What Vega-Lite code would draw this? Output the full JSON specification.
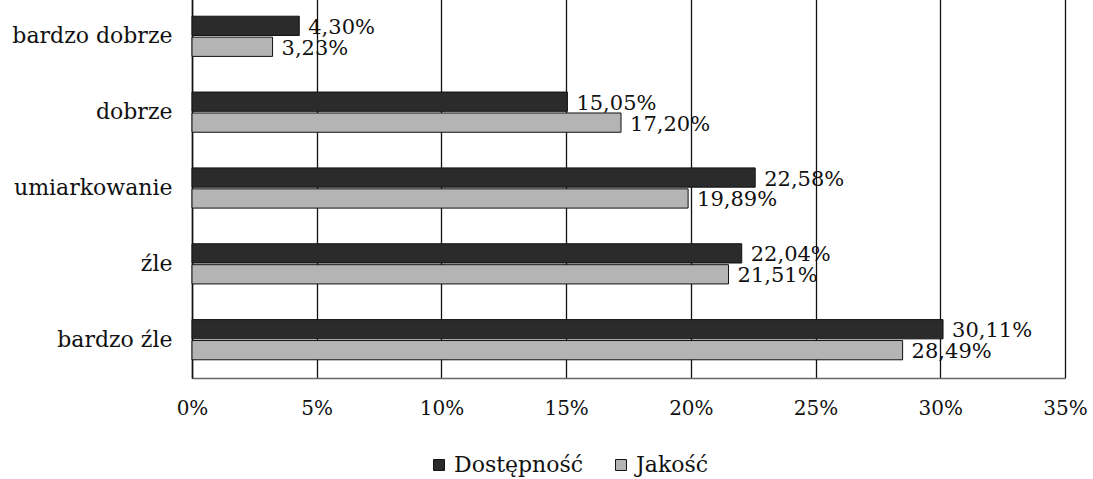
{
  "$schema": "https://vega.github.io/schema/vega-lite/v6.json",
  "width": 873,
  "height": 380,
  "autosize": {"type": "none"},
  "padding": {"left": 192, "top": -2, "right": 28, "bottom": 101},
  "background": "white",
  "config": {
    "font": "DejaVu Serif",
    "view": {"stroke": null}
  },
  "data": {
    "values": [
      {"kategoria": "bardzo dobrze", "seria": "Dostępność", "wartosc": 4.30, "etykieta": "4,30%"},
      {"kategoria": "bardzo dobrze", "seria": "Jakość", "wartosc": 3.23, "etykieta": "3,23%"},
      {"kategoria": "dobrze", "seria": "Dostępność", "wartosc": 15.05, "etykieta": "15,05%"},
      {"kategoria": "dobrze", "seria": "Jakość", "wartosc": 17.20, "etykieta": "17,20%"},
      {"kategoria": "umiarkowanie", "seria": "Dostępność", "wartosc": 22.58, "etykieta": "22,58%"},
      {"kategoria": "umiarkowanie", "seria": "Jakość", "wartosc": 19.89, "etykieta": "19,89%"},
      {"kategoria": "źle", "seria": "Dostępność", "wartosc": 22.04, "etykieta": "22,04%"},
      {"kategoria": "źle", "seria": "Jakość", "wartosc": 21.51, "etykieta": "21,51%"},
      {"kategoria": "bardzo źle", "seria": "Dostępność", "wartosc": 30.11, "etykieta": "30,11%"},
      {"kategoria": "bardzo źle", "seria": "Jakość", "wartosc": 28.49, "etykieta": "28,49%"}
    ]
  },
  "encoding": {
    "y": {
      "field": "kategoria",
      "type": "nominal",
      "sort": ["bardzo dobrze", "dobrze", "umiarkowanie", "źle", "bardzo źle"],
      "scale": {"paddingInner": 0.47, "paddingOuter": 0.24},
      "axis": {
        "title": null,
        "ticks": false,
        "labelFontSize": 22,
        "labelColor": "#111",
        "labelPadding": 20,
        "domainColor": "#111",
        "domainWidth": 1.5
      }
    },
    "yOffset": {
      "field": "seria",
      "type": "nominal",
      "sort": ["Dostępność", "Jakość"],
      "scale": {"paddingInner": 0.08}
    },
    "x": {
      "field": "wartosc",
      "type": "quantitative",
      "scale": {"domain": [0, 35], "nice": false},
      "axis": {
        "title": null,
        "values": [0, 5, 10, 15, 20, 25, 30, 35],
        "labelExpr": "datum.value + '%'",
        "labelFontSize": 20,
        "labelFlush": false,
        "labelColor": "#111",
        "labelPadding": 20,
        "ticks": false,
        "grid": true,
        "gridColor": "#111",
        "gridWidth": 1.3,
        "domainColor": "#666",
        "domainWidth": 1.5
      }
    }
  },
  "layer": [
    {
      "mark": {"type": "bar", "stroke": "#111", "strokeWidth": 1},
      "encoding": {
        "color": {
          "field": "seria",
          "type": "nominal",
          "sort": ["Dostępność", "Jakość"],
          "scale": {"domain": ["Dostępność", "Jakość"], "range": ["#2b2b2b", "#b4b4b4"]},
          "legend": {
            "title": null,
            "orient": "none",
            "legendX": 236,
            "legendY": 456,
            "direction": "horizontal",
            "symbolType": "square",
            "symbolSize": 120,
            "symbolStrokeColor": "#111",
            "symbolStrokeWidth": 1,
            "labelFont": "DejaVu Serif",
            "labelFontSize": 22,
            "labelLimit": 300,
            "labelColor": "#111",
            "labelOffset": 4,
            "columnPadding": 26
          }
        }
      }
    },
    {
      "mark": {"type": "text", "align": "left", "baseline": "middle", "dx": 9, "dy": 2, "fontSize": 21, "color": "#111"},
      "encoding": {
        "text": {"field": "etykieta"}
      }
    }
  ]
}
